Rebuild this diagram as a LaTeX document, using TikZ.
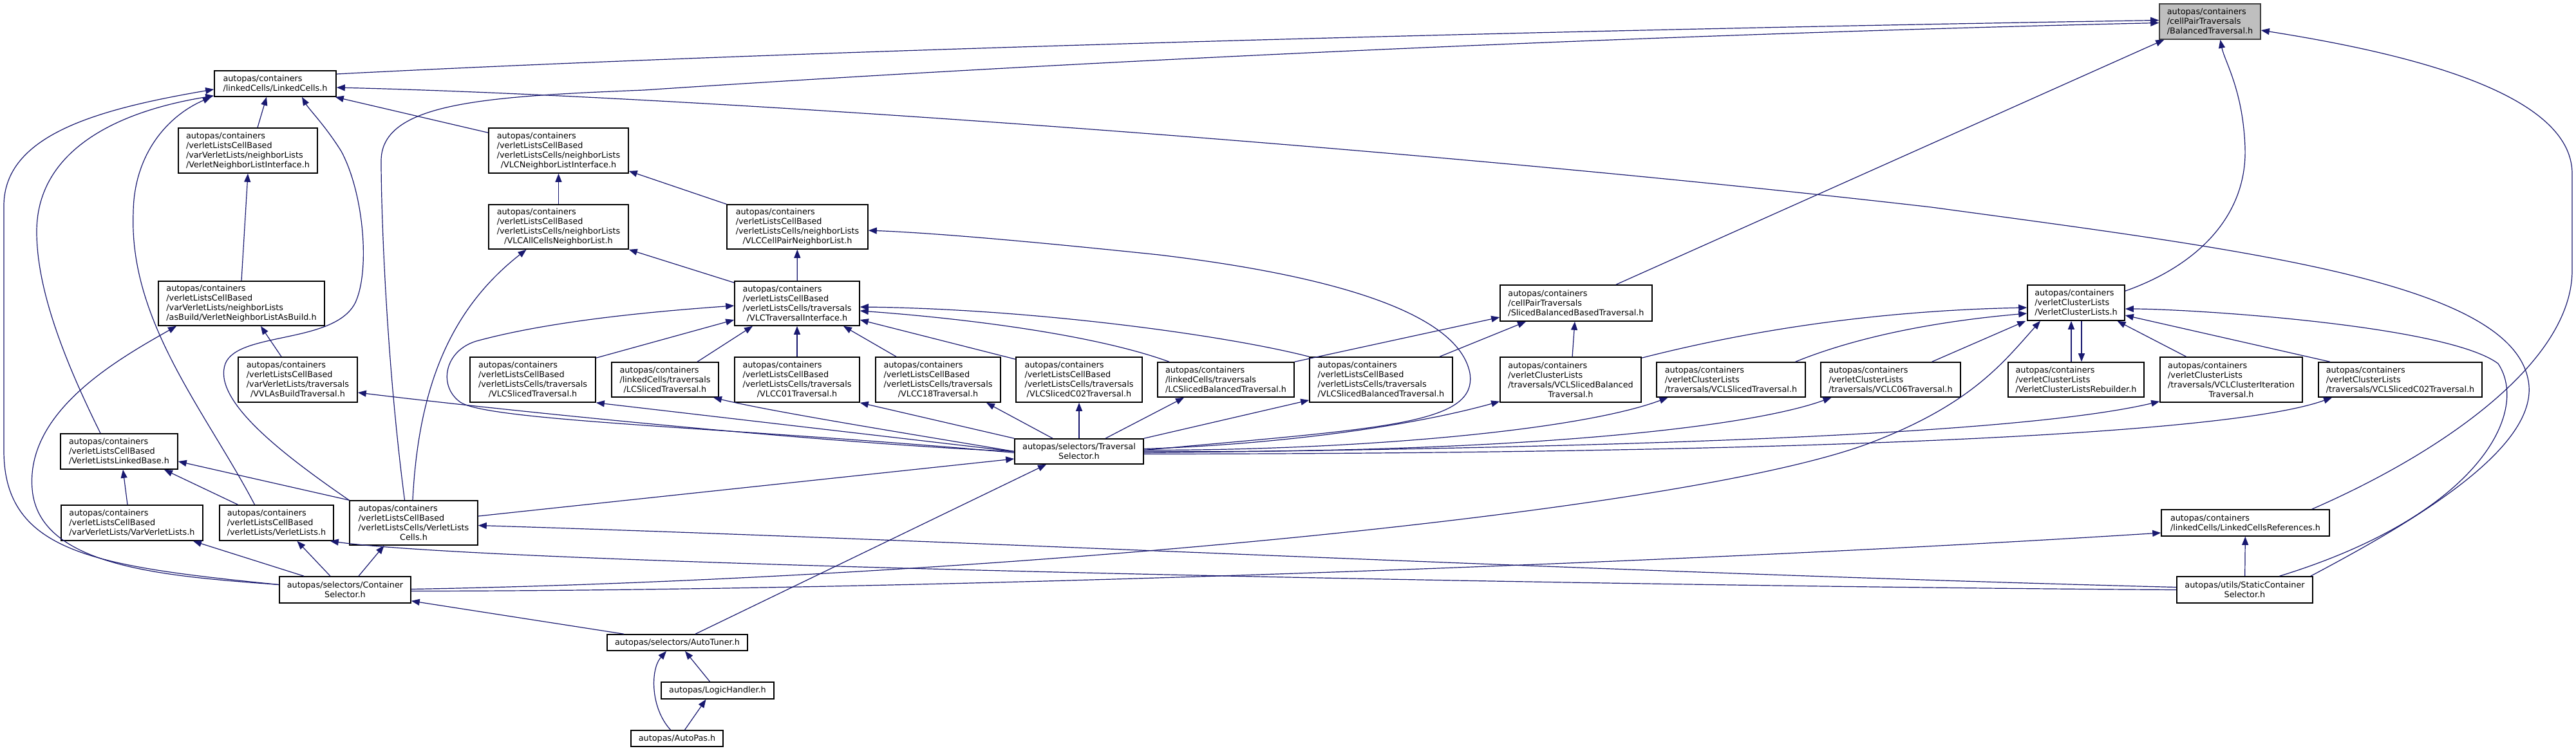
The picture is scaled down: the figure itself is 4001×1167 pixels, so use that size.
\documentclass[tikz,border=0pt]{standalone}
\usepackage{fontspec}
\setmainfont{DejaVu Sans}
\usetikzlibrary{arrows.meta}
\definecolor{edgeblue}{RGB}{25,25,112}
\definecolor{rootgray}{RGB}{191,191,191}
\newcommand{\cent}[1]{\null\hfill#1\hfill\null}
\tikzset{
	file/.style={draw=black, line width=0.8pt, fill=white, align=left, inner sep=2pt, font=\fontsize{6.4}{7.5}\selectfont},
	sz/.style 2 args={minimum width=#1*0.5pt, minimum height=#2*0.5pt},
	dep/.style={draw=edgeblue, line width=0.6pt, -{Triangle[length=6.5pt, width=5pt]}}
}

\begin{document}
\begin{tikzpicture}[x=0.5pt, y=-0.5pt]
	\path[use as bounding box, fill=white] (0,0) rectangle (4001,1167);
	\node[file, sz={157}{55}, fill=rootgray, draw=black!75] (bal) at (3432.5,33.5) {autopas/containers\\/cellPairTraversals\\/BalancedTraversal.h};
	\node[file, sz={189}{40}] (lc) at (427.5,130) {autopas/containers\\/linkedCells/LinkedCells.h};
	\node[file, sz={216}{70}] (vnli) at (385,234) {autopas/containers\\/verletListsCellBased\\/varVerletLists/neighborLists\\/VerletNeighborListInterface.h};
	\node[file, sz={217}{70}] (vlcnli) at (867.5,234) {autopas/containers\\/verletListsCellBased\\/verletListsCells/neighborLists\\\cent{/VLCNeighborListInterface.h}};
	\node[file, sz={217}{69}] (vlcall) at (867.5,352.5) {autopas/containers\\/verletListsCellBased\\/verletListsCells/neighborLists\\\cent{/VLCAllCellsNeighborList.h}};
	\node[file, sz={219}{69}] (vlcpair) at (1238.5,352.5) {autopas/containers\\/verletListsCellBased\\/verletListsCells/neighborLists\\\cent{/VLCCellPairNeighborList.h}};
	\node[file, sz={258}{69}] (vnlab) at (375,471.5) {autopas/containers\\/verletListsCellBased\\/varVerletLists/neighborLists\\/asBuild/VerletNeighborListAsBuild.h};
	\node[file, sz={194}{69}] (vlcti) at (1238,471.5) {autopas/containers\\/verletListsCellBased\\/verletListsCells/traversals\\\cent{/VLCTraversalInterface.h}};
	\node[file, sz={236}{56}] (sbb) at (2448,471) {autopas/containers\\/cellPairTraversals\\/SlicedBalancedBasedTraversal.h};
	\node[file, sz={151}{55}] (vcl) at (3224.5,470.5) {autopas/containers\\/verletClusterLists\\/VerletClusterLists.h};
	\node[file, sz={185}{70}] (vvlas) at (462.5,590) {autopas/containers\\/verletListsCellBased\\/varVerletLists/traversals\\\cent{/VVLAsBuildTraversal.h}};
	\node[file, sz={195}{70}] (vlcsliced) at (827.5,590) {autopas/containers\\/verletListsCellBased\\/verletListsCells/traversals\\\cent{/VLCSlicedTraversal.h}};
	\node[file, sz={166}{54}] (lcsliced) at (1033,590) {autopas/containers\\/linkedCells/traversals\\\cent{/LCSlicedTraversal.h}};
	\node[file, sz={194}{70}] (vlcc01) at (1238,590) {autopas/containers\\/verletListsCellBased\\/verletListsCells/traversals\\\cent{/VLCC01Traversal.h}};
	\node[file, sz={194}{70}] (vlcc18) at (1457,590) {autopas/containers\\/verletListsCellBased\\/verletListsCells/traversals\\\cent{/VLCC18Traversal.h}};
	\node[file, sz={196}{70}] (vlcsc02) at (1676,590) {autopas/containers\\/verletListsCellBased\\/verletListsCells/traversals\\\cent{/VLCSlicedC02Traversal.h}};
	\node[file, sz={212}{54}] (lcsbal) at (1904,590) {autopas/containers\\/linkedCells/traversals\\/LCSlicedBalancedTraversal.h};
	\node[file, sz={222}{70}] (vlcsbal) at (2145,590) {autopas/containers\\/verletListsCellBased\\/verletListsCells/traversals\\/VLCSlicedBalancedTraversal.h};
	\node[file, sz={219}{70}] (vclsbal) at (2439.5,590) {autopas/containers\\/verletClusterLists\\/traversals/VCLSlicedBalanced\\\cent{Traversal.h}};
	\node[file, sz={231}{54}] (vclsliced) at (2688.5,590) {autopas/containers\\/verletClusterLists\\/traversals/VCLSlicedTraversal.h};
	\node[file, sz={217}{54}] (vclc06) at (2936.5,590) {autopas/containers\\/verletClusterLists\\/traversals/VCLC06Traversal.h};
	\node[file, sz={211}{54}] (rebuild) at (3224.5,590) {autopas/containers\\/verletClusterLists\\/VerletClusterListsRebuilder.h};
	\node[file, sz={221}{70}] (vclci) at (3465.5,590) {autopas/containers\\/verletClusterLists\\/traversals/VCLClusterIteration\\\cent{Traversal.h}};
	\node[file, sz={254}{54}] (vclsc02) at (3728,590) {autopas/containers\\/verletClusterLists\\/traversals/VCLSlicedC02Traversal.h};
	\node[file, sz={182}{55}] (vllb) at (185,701.5) {autopas/containers\\/verletListsCellBased\\/VerletListsLinkedBase.h};
	\node[file, sz={200}{39}] (ts) at (1676,701.5) {autopas/selectors/Traversal\\\cent{Selector.h}};
	\node[file, sz={220}{55}] (varvl) at (205,812.5) {autopas/containers\\/verletListsCellBased\\/varVerletLists/VarVerletLists.h};
	\node[file, sz={177}{55}] (vl) at (429.5,812.5) {autopas/containers\\/verletListsCellBased\\/verletLists/VerletLists.h};
	\node[file, sz={199}{69}] (vlcells) at (642.5,812.5) {autopas/containers\\/verletListsCellBased\\/verletListsCells/VerletLists\\\cent{Cells.h}};
	\node[file, sz={261}{41}] (lcr) at (3487.5,812.5) {autopas/containers\\/linkedCells/LinkedCellsReferences.h};
	\node[file, sz={204}{41}] (cs) at (536,916.5) {autopas/selectors/Container\\\cent{Selector.h}};
	\node[file, sz={211}{41}] (scs) at (3486.5,916.5) {autopas/utils/StaticContainer\\\cent{Selector.h}};
	\node[file, sz={218}{25}] (tuner) at (1052,998.5) {autopas/selectors/AutoTuner.h};
	\node[file, sz={175}{26}] (logic) at (1114.5,1073) {autopas/LogicHandler.h};
	\node[file, sz={143}{25}] (autopas) at (1051.5,1147.5) {autopas/AutoPas.h};

	\draw[dep] ([yshift=7.5pt]lc.east) .. controls (1300,75) and (2500,45) .. ([yshift=1pt]bal.west);
	\draw[dep] ([xshift=-7pt]vlcells.north) .. controls (600,560) and (592,330) .. (592,250) .. controls (592,160) and (750,150) .. (1000,140) .. controls (1900,80) and (2800,48) .. ([yshift=-1pt]bal.west);
	\draw[dep] ([xshift=31pt]sbb.north) -- ([xshift=4pt]bal.south west);
	\draw[dep] ([yshift=-5pt]vcl.north east) .. controls (3420,410) and (3490,330) .. (3487,230) .. controls (3484,140) and (3455,95) .. ([xshift=8pt]bal.south);
	\draw[dep] ([xshift=-14pt]lcr.north east) .. controls (3800,700) and (3995,560) .. (3995,420) -- (3995,270) .. controls (3995,140) and (3720,80) .. ([yshift=-6.75pt]bal.east);

	\draw[dep] ([xshift=7.5pt]vnli.north) -- ([xshift=-6.75pt]lc.south);
	\draw[dep] ([yshift=-4pt]vlcnli.north west) -- ([xshift=-1pt]lc.south east);
	\draw[dep] ([xshift=-17pt]vl.north) .. controls (320,640) and (200,500) .. (207,330) .. controls (208,240) and (260,180) .. ([xshift=-49.75pt]lc.south);
	\draw[dep] ([xshift=-14.5pt]vllb.north) .. controls (100,560) and (57,450) .. (57,360) .. controls (57,240) and (170,175) .. ([yshift=1pt]lc.south west);
	\draw[dep] ([yshift=4pt]cs.west) .. controls (150,880) and (6,860) .. (6,700) -- (6,320) .. controls (6,210) and (150,170) .. ([yshift=6pt]lc.south west);
	\draw[dep] (vlcells.north west) .. controls (430,700) and (330,620) .. (350,565) .. controls (370,515) and (520,535) .. (552,470) .. controls (575,420) and (565,300) .. (530,235) .. controls (505,195) and (480,170) .. ([xshift=20.75pt]lc.south);
	\draw[dep] ([xshift=-2pt]scs.north east) .. controls (3750,810) and (3935,700) .. (3928,600) .. controls (3915,440) and (3500,390) .. (3000,322) .. controls (2200,230) and (1100,150) .. ([yshift=-3pt]lc.east);

	\draw[dep] (vnlab.north) -- (vnli.south);
	\draw[dep] (vlcall) -- (vlcnli);
	\draw[dep] (vlcpair.north west) -- ([yshift=2pt]vlcnli.south east);
	\draw[dep] ([yshift=-1.5pt]vlcti.north west) -- (vlcall.south east);
	\draw[dep] (vlcti) -- (vlcpair);
	\draw[dep] ([xshift=-0.75pt]vlcells.north) .. controls (650,600) and (700,480) .. ([xshift=-25pt]vlcall.south);
	\draw[dep] ([yshift=1pt]ts.east) .. controls (2150,665) and (2295,660) .. (2283,580) .. controls (2262,470) and (2000,420) .. (1800,396) .. controls (1600,375) and (1450,362) .. ([yshift=-2.75pt]vlcpair.east);

	\draw[dep] ([xshift=-12.75pt]vvlas.north) -- ([xshift=15pt]vnlab.south);
	\draw[dep] ([yshift=4pt]cs.west) .. controls (250,895) and (60,880) .. (50,760) .. controls (40,640) and (180,560) .. ([xshift=-50.5pt]vnlab.south);
	\draw[dep] (ts.west) .. controls (1300,690) and (800,640) .. ([yshift=-10pt]vvlas.east);

	\draw[dep] ([yshift=-1pt]vlcsliced.north east) -- ([yshift=-12.75pt]vlcti.west);
	\draw[dep] ([xshift=25pt]lcsliced.north) -- ([xshift=-34.5pt]vlcti.south);
	\draw[dep] (vlcc01) -- (vlcti);
	\draw[dep] ([xshift=-32.5pt]vlcc18.north) -- ([xshift=36pt]vlcti.south);
	\draw[dep] ([yshift=-2pt]vlcsc02.north west) -- ([yshift=-12.75pt]vlcti.east);
	\draw[dep] ([xshift=-44pt]lcsbal.north) .. controls (1700,520) and (1500,495) .. ([yshift=-5.75pt]vlcti.east);
	\draw[dep] (vlcsbal.north west) .. controls (1900,520) and (1600,480) .. ([yshift=-2.75pt]vlcti.east);
	\draw[dep] ([yshift=-1pt]ts.west) .. controls (1150,665) and (760,655) .. (715,625) .. controls (680,600) and (690,545) .. (740,530) .. controls (850,500) and (1000,485) .. ([yshift=-1.75pt]vlcti.west);

	\draw[dep] ([xshift=-3.5pt]varvl.north) -- ([xshift=3pt]vllb.south);
	\draw[dep] ([xshift=-30pt]vl.north) -- ([xshift=35pt]vllb.south);
	\draw[dep] (vlcells.north west) -- ([yshift=-7.75pt]vllb.east);

	\draw[dep] (lcsbal.north east) -- ([yshift=-11pt]sbb.west);
	\draw[dep] ([xshift=45.5pt]vlcsbal.north) -- ([xshift=-39pt]sbb.south);
	\draw[dep] (vclsbal) -- (sbb);

	\draw[dep] ([yshift=-1pt]vclsbal.north east) .. controls (2750,505) and (2950,482) .. ([yshift=-3.75pt]vcl.west);
	\draw[dep] ([xshift=50pt]vclsliced.north) .. controls (2880,525) and (3000,500) .. ([yshift=-8.25pt]vcl.west);
	\draw[dep] ([xshift=32pt]vclc06.north) -- ([xshift=-1pt]vcl.south west);
	\draw[dep] ([yshift=0.5pt]cs.east) .. controls (1500,900) and (2600,800) .. (2900,690) .. controls (3060,630) and (3110,565) .. ([xshift=-27.75pt]vcl.south);
	\draw[dep] ([xshift=-3.75pt]rebuild.north) -- ([xshift=-3.75pt]vcl.south);
	\draw[dep] ([xshift=4.25pt]vcl.south) -- ([xshift=4.25pt]rebuild.north);
	\draw[dep] ([xshift=-35pt]vclci.north) -- ([xshift=32pt]vcl.south);
	\draw[dep] ([xshift=-54.5pt]vclsc02.north) -- ([yshift=-9.75pt]vcl.east);
	\draw[dep] ([xshift=27pt]scs.north) .. controls (3850,800) and (3930,640) .. (3880,565) .. controls (3800,505) and (3400,480) .. ([yshift=-4.75pt]vcl.east);

	\draw[dep] (ts.west) -- (vlcsliced.south east);
	\draw[dep] (ts.west) .. controls (1400,672) and (1200,640) .. ([xshift=37.5pt]lcsliced.south);
	\draw[dep] (ts.north west) -- (vlcc01.south east);
	\draw[dep] ([xshift=-20.5pt]ts.north) -- ([xshift=37.5pt]vlcc18.south);
	\draw[dep] (ts) -- (vlcsc02);
	\draw[dep] ([xshift=20.5pt]ts.north) -- ([xshift=-32.5pt]lcsbal.south);
	\draw[dep] (ts.north east) -- ([yshift=2pt]vlcsbal.south west);
	\draw[dep] ([yshift=2pt]ts.east) .. controls (2000,690) and (2200,660) .. ([yshift=1pt]vclsbal.south west);
	\draw[dep] ([yshift=1pt]ts.east) .. controls (2100,700) and (2450,670) .. ([xshift=-49pt]vclsliced.south);
	\draw[dep] (ts.east) .. controls (2300,705) and (2700,670) .. ([xshift=-46pt]vclc06.south);
	\draw[dep] ([yshift=-1pt]ts.east) .. controls (2600,695) and (3150,672) .. ([yshift=1pt]vclci.south west);
	\draw[dep] ([yshift=-2pt]ts.east) .. controls (2700,705) and (3450,680) .. ([xshift=-53pt]vclsc02.south);
	\draw[dep] ([yshift=5.25pt]vlcells.east) -- ([yshift=-5.75pt]ts.west);
	\draw[dep] ([xshift=14pt]tuner.north) -- ([xshift=-25.5pt]ts.south);

	\draw[dep] ([xshift=-32pt]cs.north) -- ([xshift=47.5pt]varvl.south);
	\draw[dep] ([xshift=-11.5pt]cs.north) -- ([xshift=16pt]vl.south);
	\draw[dep] ([xshift=10.5pt]cs.north) -- ([xshift=-23pt]vlcells.south);
	\draw[dep] ([yshift=-1pt]cs.east) .. controls (1500,918) and (2700,870) .. ([yshift=-7.75pt]lcr.west);
	\draw[dep] ([xshift=-41.5pt]tuner.north) -- ([yshift=2pt]cs.south east);

	\draw[dep] (scs) -- (lcr);
	\draw[dep] ([yshift=2pt]scs.west) .. controls (2500,890) and (1500,840) .. ([yshift=-2pt]vlcells.east);
	\draw[dep] (scs.west) .. controls (2600,912) and (800,880) .. ([xshift=-3pt]vl.south east);

	\draw[dep] ([xshift=-6pt]logic.north) -- ([xshift=6pt]tuner.south);
	\draw[dep] ([xshift=-5pt]autopas.north) .. controls (1010,1100) and (1010,1040) .. ([xshift=-8.5pt]tuner.south);
	\draw[dep] ([xshift=6pt]autopas.north) -- ([xshift=-9pt]logic.south);
\end{tikzpicture}
\end{document}
